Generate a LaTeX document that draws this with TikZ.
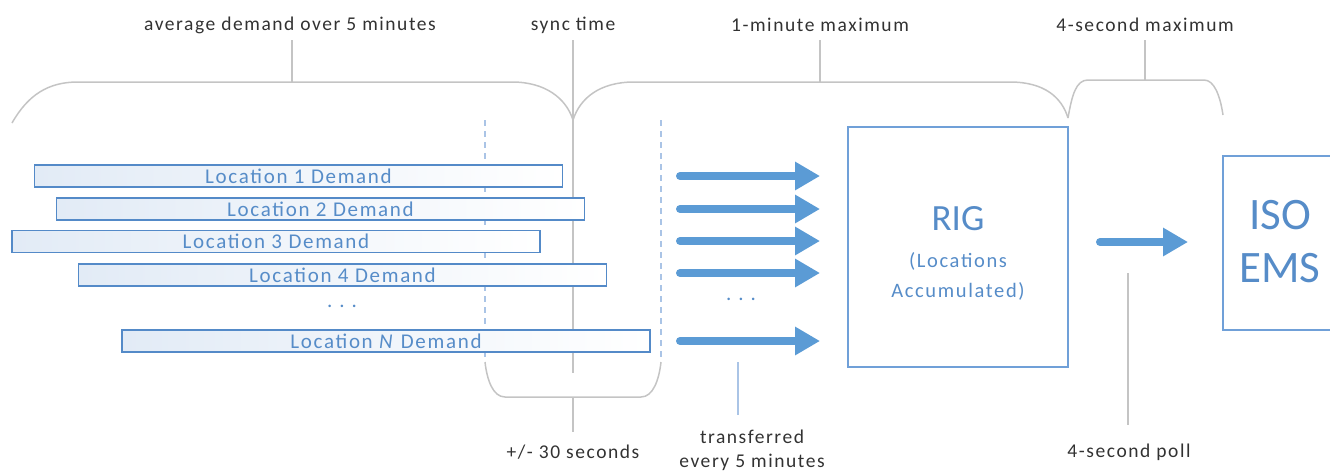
\documentclass[tikz,border=0pt]{standalone}
\usepackage{fontspec}
\setmainfont{Carlito}
\newfontfamily\widefont[LetterSpace=8]{Carlito}
\usetikzlibrary{arrows.meta}

\definecolor{barline}{RGB}{84,138,200}
\definecolor{barfill}{RGB}{226,235,246}
\definecolor{bluetext}{RGB}{86,140,200}
\definecolor{arrowblue}{RGB}{91,155,213}
\definecolor{boxline}{RGB}{112,160,216}
\definecolor{guide}{RGB}{170,196,230}
\definecolor{bracegray}{RGB}{196,196,196}
\definecolor{labeltext}{RGB}{50,50,50}

\tikzset{
  locbar/.style={draw=barline, line width=1.3pt, left color=barfill, middle color=white, right color=white,
    minimum width=528pt, minimum height=22pt, inner sep=0pt, text=bluetext,
    font=\widefont\fontsize{21}{22}\selectfont},
  bracket/.style={draw=bracegray, line width=1.5pt},
  guideline/.style={draw=guide, line width=1.3pt, dash pattern=on 6pt off 5pt},
  sendarrow/.style={draw=arrowblue, line width=8pt, line cap=round,
    -{Triangle[length=25pt, width=27pt]}},
  toplabel/.style={text=labeltext, font=\widefont\fontsize{19.5}{24}\selectfont, inner sep=1pt},
  unitbox/.style={draw=boxline, line width=1.5pt, text=bluetext}
}

\begin{document}
\begin{tikzpicture}[x=1pt, y=-1pt]
\useasboundingbox (0,0) rectangle (1330,474);

% labels above
\node[toplabel] (avglbl) at (290,25) {average demand over 5 minutes};
\node[toplabel] (synclbl) at (573,25) {sync time};
\node[toplabel] (minlbl) at (820,25) {1-minute maximum};
\node[toplabel] (seclbl) at (1145,25) {4-second maximum};

% braces
\coordinate (avgtip) at (292,82);
\coordinate (mintip) at (820,82);
\coordinate (sectip) at (1145,80);
\draw[bracket] (12,123) .. controls (28,95) and (48,82) .. (78,82) -- (512,82)
  .. controls (545,82) and (566,98) .. (573,120);
\draw[bracket] (573,120) .. controls (580,98) and (600,82) .. (634,82) -- (1010,82)
  .. controls (1045,82) and (1062,98) .. (1068,118);
\draw[bracket] (1068,118) .. controls (1072,95) and (1076,80) .. (1088,80) -- (1204,80)
  .. controls (1214,80) and (1220,95) .. (1223,115);
\draw[bracket] (avgtip) -- (avgtip |- 0,40);
\draw[bracket] (mintip) -- (mintip |- 0,40);
\draw[bracket] (sectip) -- (sectip |- 0,40);

% sync time line and lower brace
\coordinate (synctop) at (573,40);
\coordinate (syncbot) at (573,373);
\draw[bracket] (synctop) -- (syncbot);
\draw[bracket] (485,362) .. controls (487,380) and (493,397) .. (505,397) -- (641,397)
  .. controls (653,397) and (659,380) .. (661,362);
\coordinate (secstip) at (573,397);
\draw[bracket] (secstip) -- ++(0,35);
\node[toplabel] (secslbl) at (573,452) {+/- 30 seconds};

% dashed guides
\draw[guideline] (485,120) -- (485,360);
\draw[guideline] (661,120) -- (661,360);

% demand bars
\node[locbar] (loc1) at (298.5,176) {Location 1 Demand};
\node[locbar] (loc2) at (320.5,209) {Location 2 Demand};
\node[locbar] (loc3) at (276,241.5) {Location 3 Demand};
\node[locbar] (loc4) at (342.5,275) {Location 4 Demand};
\node[text=bluetext, font=\fontsize{21}{22}\selectfont] (locdots) at (342,306) {.\,\,.\,\,.};
\node[locbar] (locN) at (386,341) {Location \textit{N} Demand};

% transfer arrows
\foreach \y [count=\i] in {176,209,241,273,341} {
  \coordinate (sends\i) at (680,\y);
  \coordinate (sende\i) at (820,\y);
  \draw[sendarrow] (sends\i) -- (sende\i);
}
\node[text=bluetext, font=\fontsize{21}{22}\selectfont] (senddots) at (741,299) {.\,\,.\,\,.};
\coordinate (sendtip) at (738,362);
\draw[draw=guide, line width=1.3pt] (sendtip) -- ++(0,53);
\node[toplabel, align=center] (sendlbl) at (752,450) {transferred\\every 5 minutes};

% RIG and ISO EMS
\node[unitbox, minimum width=220pt, minimum height=240pt] (rig) at (958,247) {};
\node[text=bluetext, font=\fontsize{37}{38}\selectfont] (riglbl) at (958,219) {RIG};
\node[text=bluetext, align=center, font=\widefont\fontsize{20.5}{30}\selectfont] (rigsub) at (958,276)
  {(Locations\\Accumulated)};
\begin{scope}
\clip (0,0) rectangle (1330,474);
\node[unitbox, minimum width=140pt, minimum height=174pt, anchor=north west] (iso) at (1222,155) {};
\end{scope}
\node[text=bluetext, align=center, font=\fontsize{45}{53}\selectfont] (isolbl) at (1280,242) {ISO\\EMS};

% poll arrow
\coordinate (polls) at (1100,242);
\coordinate (polle) at (1188,242);
\draw[sendarrow] (polls) -- (polle);
\coordinate (polltip) at (1128,273);
\draw[bracket] (polltip) -- ++(0,152);
\node[toplabel] (polllbl) at (1129,452) {4-second poll};
\end{tikzpicture}
\end{document}
